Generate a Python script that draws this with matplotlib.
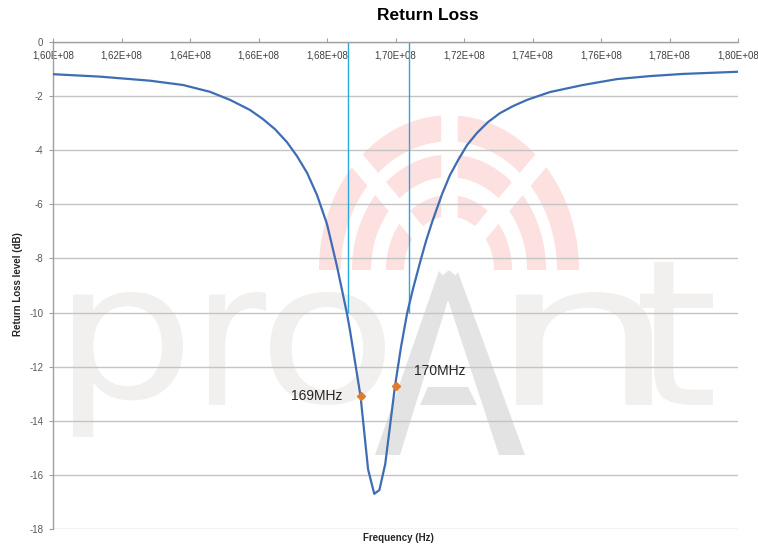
import matplotlib.pyplot as plt
import numpy as np
from matplotlib.patches import Polygon, PathPatch
from matplotlib.textpath import TextPath
from matplotlib.font_manager import FontProperties
from matplotlib.transforms import Affine2D

plt.rcParams['font.family'] = ['Liberation Sans', 'DejaVu Sans']

# return loss curve (MHz, dB)
freq_mhz = [160.0, 161.37, 162.83, 163.80, 164.58, 165.17, 165.75, 166.13, 166.48, 166.83,
            167.12, 167.42, 167.71, 168.00, 168.29, 168.58, 168.67, 168.98, 169.20, 169.38,
            169.53, 169.70, 169.985, 170.16, 170.34, 170.51, 170.72, 170.89, 171.07, 171.36,
            171.59, 171.83, 172.09, 172.38, 172.70, 173.05, 173.43, 173.84, 174.51, 175.47,
            176.47, 177.43, 178.39, 180.0]
rl_db = [-1.19, -1.28, -1.43, -1.59, -1.84, -2.14, -2.51, -2.85, -3.22, -3.70,
         -4.21, -4.84, -5.66, -6.73, -8.28, -10.02, -10.65, -13.1, -15.8, -16.7,
         -16.56, -15.6, -12.72, -11.28, -10.02, -9.13, -8.13, -7.36, -6.65, -5.62,
         -4.92, -4.36, -3.81, -3.36, -2.96, -2.63, -2.37, -2.14, -1.85, -1.59,
         -1.37, -1.26, -1.18, -1.10]

# -10 dB markers (vertical lines) and labelled points
bw_mhz = [168.6, 170.4]
bw_level = -10
mark_mhz = [169.0, 170.0]
mark_db = [-13.08, -12.72]
mark_labels = ['169MHz', '170MHz']

xtick_mhz = list(range(160, 181, 2))
xtick_labels = ['1,60E+08', '1,62E+08', '1,64E+08', '1,66E+08', '1,68E+08', '1,70E+08',
                '1,72E+08', '1,74E+08', '1,76E+08', '1,78E+08', '1,80E+08']
ytick_vals = list(range(-18, 1, 2))

fig = plt.figure(figsize=(7.58, 5.48), dpi=100)

# background watermark, in pixel coordinates
bg = fig.add_axes([0, 0, 1, 1], zorder=0)
bg.set_xlim(0, 758)
bg.set_ylim(548, 0)
bg.axis('off')

cx, cy, k = 449, 270, 1.19
t = np.linspace(0, np.pi, 120)
for r_in, r_out in [(45, 63), (78, 97), (108, 130)]:
    outer = np.c_[cx + r_out * np.cos(t), cy - k * r_out * np.sin(t)]
    inner = np.c_[cx + r_in * np.cos(t[::-1]), cy - k * r_in * np.sin(t[::-1])]
    bg.add_patch(Polygon(np.vstack([outer, inner]), color='#fde0e0', lw=0))
for a in [45, 90, 135]:
    ang = np.radians(a)
    bg.plot([cx, cx + 170 * np.cos(ang)], [cy, cy - k * 170 * np.sin(ang)],
            color='white', lw=12, solid_capstyle='butt')


def letter(ch, x0, x1, y0, y1, color):
    path = TextPath((0, 0), ch, size=1, prop=FontProperties(family='DejaVu Sans'))
    bb = path.get_extents()
    tr = (Affine2D().translate(-bb.x0, -bb.y1)
          .scale((x1 - x0) / bb.width, -(y1 - y0) / bb.height)
          .translate(x0, y0))
    bg.add_patch(PathPatch(tr.transform_path(path), color=color, lw=0))


wm = '#f2f0ee'
letter('p', 73, 183, 292, 437, wm)
letter('r', 209, 266, 292, 405, wm)
letter('o', 270, 385, 292, 405, wm)
letter('n', 516, 652, 292, 405, wm)
letter('t', 640, 713, 262, 405, wm)
bg.add_patch(Polygon([(375, 455), (448, 245), (525, 455), (499, 455), (448, 300), (400, 455)],
                     color='#e3e3e3', lw=0))
bg.add_patch(Polygon([(428, 387), (468, 387), (477, 405), (420, 405)], color='#e3e3e3', lw=0))

# chart
ax = fig.add_axes([53 / 758, 1 - 529 / 548, 685 / 758, 487 / 548], zorder=1)
ax.set_facecolor('none')

f_hz = np.array(freq_mhz) * 1e6
ax.plot(f_hz, rl_db, color='#3f6db3', lw=1.6, zorder=3)
ax.vlines(np.array(bw_mhz) * 1e6, bw_level, 0, color='#2aa8e0', lw=1, zorder=2)
ax.plot(np.array(mark_mhz) * 1e6, mark_db, 'D', color='#e07b2c', ms=4, zorder=4)
ax.text(168.44e6, -13.08, mark_labels[0], ha='right', va='center', fontsize=10, color='#262626')
ax.text(170.54e6, -12.16, mark_labels[1], ha='left', va='center', fontsize=10, color='#262626')

ax.set_xlim(160e6, 180e6)
ax.set_ylim(-18, 0)
ax.set_xticks(np.array(xtick_mhz) * 1e6)
ax.set_xticklabels(xtick_labels)
ax.set_yticks(ytick_vals)
ax.set_yticklabels([str(v) for v in ytick_vals])

ax.xaxis.set_ticks_position('top')
ax.tick_params(axis='x', direction='out', length=3, width=0.8, color='#a0a0a0',
               labelsize=7, labelcolor='#404040', pad=-16)
ax.tick_params(axis='y', direction='out', length=3, width=0.8, color='#a0a0a0',
               labelsize=7, labelcolor='#595959', pad=4)

ax.yaxis.grid(True, color='#c4c4c4', lw=1)
ax.set_axisbelow(True)
for side in ['right', 'bottom']:
    ax.spines[side].set_visible(False)
for side in ['top', 'left']:
    ax.spines[side].set_color('#a0a0a0')
    ax.spines[side].set_linewidth(1)

fig.text(428 / 758, 1 - 15 / 548, 'Return Loss', ha='center', va='center',
         fontsize=12.5, fontweight='bold')
fig.text(398 / 758, 1 - 538 / 548, 'Frequency (Hz)', ha='center', va='center',
         fontsize=7, fontweight='bold', color='#262626')
fig.text(18 / 758, 1 - 284 / 548, 'Return Loss level (dB)', ha='center', va='center',
         rotation=90, fontsize=7, fontweight='bold', color='#262626')

fig.savefig('out.png', dpi=100)
